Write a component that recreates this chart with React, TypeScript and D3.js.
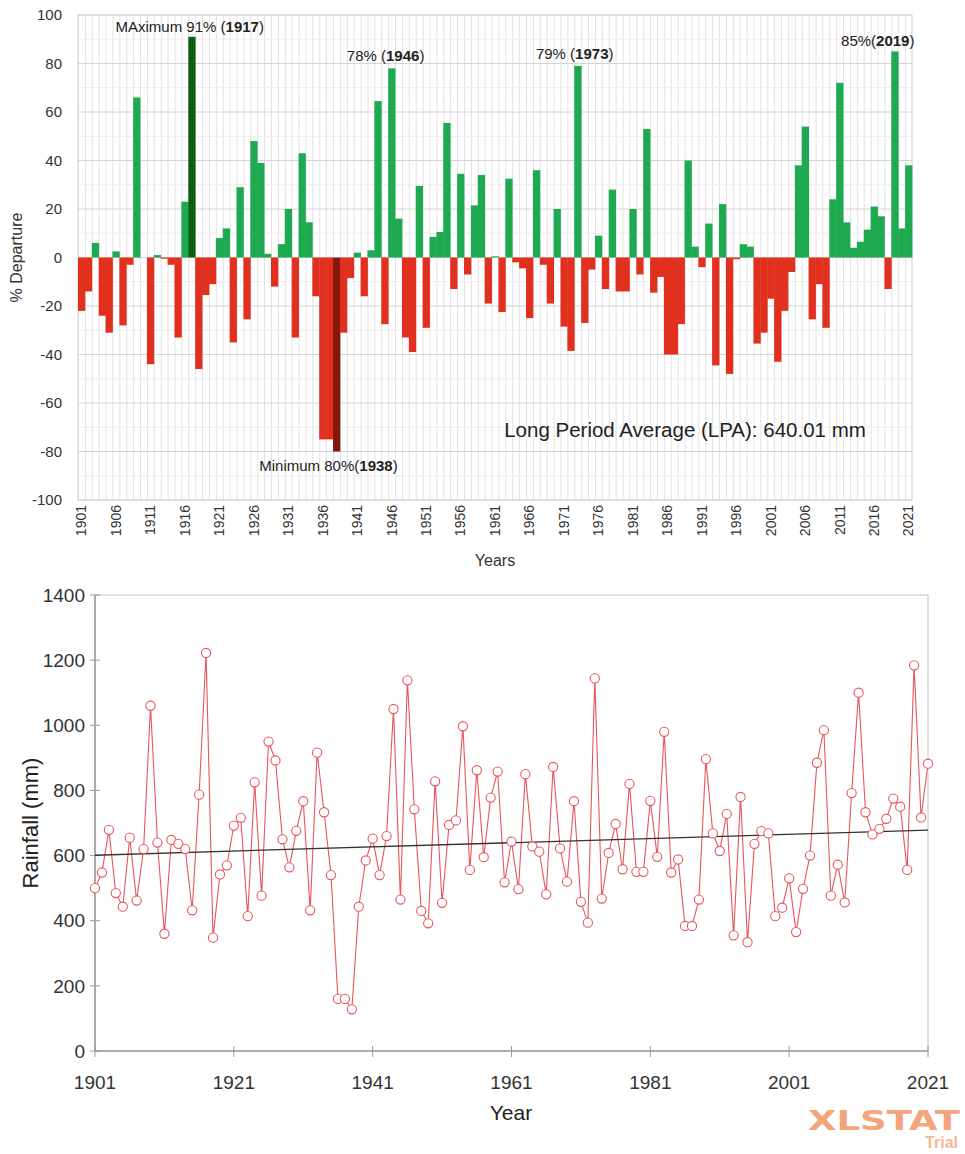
import React from 'react';
import * as d3 from 'd3';

// ---------------- DATA ----------------
const years: number[] = d3.range(1901, 2022);

// % departure from LPA (top panel)
const departure: number[] = [
  -22, -14, 6, -24, -31, 2.5, -28, -3, 66, 0,
  -44, 1, -0.5, -3, -33, 23, 91, -46, -15.5, -11,
  8, 12, -35, 29, -25.5, 48, 39, 1.5, -12, 5.5,
  20, -33, 43, 14.5, -16, -75, -75, -80, -31, -8.5,
  2, -16, 3, 64.5, -27.5, 78, 16, -33, -39, 29.5,
  -29, 8.5, 10.5, 55.5, -13, 34.5, -7, 21.5, 34, -19,
  0.5, -22.5, 32.5, -2, -4.5, -25, 36, -3, -19, 20,
  -28.5, -38.5, 79, -27, -5, 9, -13, 28, -14, -14,
  20, -7, 53, -14.5, -8, -40, -40, -27.5, 40, 4.5,
  -4, 14, -44.5, 22, -48, -0.7, 5.5, 4.5, -35.5, -31,
  -17, -43, -22, -6, 38, 54, -25.5, -11, -29, 24,
  72, 14.5, 4, 6.5, 11.5, 21, 17, -13, 85, 12,
  38,
];

// Annual rainfall in mm (bottom panel)
const rainfall: number[] = [
  500, 548, 679, 485, 443, 655, 462, 620, 1060, 640,
  360, 648, 636, 620, 432, 787, 1222, 348, 542, 570,
  692, 716, 414, 825, 477, 950, 892, 650, 564, 676,
  767, 432, 916, 733, 540, 160, 160, 128, 443, 585,
  652, 540, 660, 1050, 465, 1138, 742, 430, 392, 828,
  455, 694, 708, 997, 556, 862, 595, 778, 858, 518,
  643, 497, 850, 628, 612, 481, 872, 622, 520, 767,
  458, 394, 1144, 468, 608, 697, 558, 820, 550, 550,
  768, 596, 980, 548, 588, 384, 384, 465, 896, 668,
  614, 728, 355, 780, 334, 636, 675, 668, 414, 440,
  530, 365, 498, 600, 885, 985, 477, 572, 456, 792,
  1100, 733, 665, 682, 713, 775, 750, 556, 1184, 717,
  882,
];

const depTicks: number[] = [-100, -80, -60, -40, -20, 0, 20, 40, 60, 80, 100];
const depMinorTicks: number[] = [-90, -70, -50, -30, -10, 10, 30, 50, 70, 90];
const depYearLabels: number[] = [
  1901, 1906, 1911, 1916, 1921, 1926, 1931, 1936, 1941, 1946, 1951, 1956,
  1961, 1966, 1971, 1976, 1981, 1986, 1991, 1996, 2001, 2006, 2011, 2016, 2021,
];
const rainTicks: number[] = [0, 200, 400, 600, 800, 1000, 1200, 1400];
const rainYearTicks: number[] = [1901, 1921, 1941, 1961, 1981, 2001, 2021];
const trendYears: number[] = [1901, 2021];
const trendValues: number[] = [601, 678];

const maxYear = 1917;
const minYear = 1938;
const lpaText = 'Long Period Average (LPA): 640.01 mm';

const peakNotes = [
  { year: 1917, value: 91, pre: 'MAximum 91% (', bold: '1917', post: ')', dx: -2, dy: -5 },
  { year: 1946, value: 78, pre: '78% (', bold: '1946', post: ')', dx: -6, dy: -7 },
  { year: 1973, value: 79, pre: '79% (', bold: '1973', post: ')', dx: -3, dy: -7 },
  { year: 2019, value: 85, pre: '85%(', bold: '2019', post: ')', dx: -17, dy: -5 },
];
const minNote = { year: 1938, value: -80, pre: 'Minimum 80%(', bold: '1938', post: ')', dx: -8, dy: 19 };

// ---------------- STYLE ----------------
const FONT = '"Liberation Sans", Arial, Helvetica, sans-serif';
const GREEN = '#1faa52';
const DARK_GREEN = '#0b5e12';
const RED = '#e2301f';
const DARK_RED = '#84170c';
const LINE_RED = '#e8555a';

export default function App() {
  // Top panel scales
  const x = d3.scaleBand<number>().domain(years).range([78, 912]).padding(0);
  const y = d3.scaleLinear().domain([-100, 100]).range([500, 15]);
  const bw = x.bandwidth();
  const cx = (yr: number) => (x(yr) as number) + bw / 2;

  // Bottom panel scales
  const xs = d3.scaleLinear().domain([1901, 2021]).range([95, 928]);
  const ys = d3.scaleLinear().domain([0, 1400]).range([1051, 595]);

  const line = d3
    .line<number>()
    .x((_, i) => xs(years[i]))
    .y((d) => ys(d));

  const trendLine = d3
    .line<number>()
    .x((_, i) => xs(trendYears[i]))
    .y((d) => ys(d));

  const barColor = (yr: number, v: number) => {
    if (yr === maxYear) return DARK_GREEN;
    if (yr === minYear) return DARK_RED;
    return v >= 0 ? GREEN : RED;
  };

  return (
    <svg
      width={965}
      height={1154}
      style={{ position: 'absolute', left: 0, top: 0, background: '#fff' }}
      fontFamily={FONT}
    >
      <rect x={0} y={0} width={965} height={1154} fill="#fff" />

      {/* ---------- TOP PANEL ---------- */}
      <g>
        {years.map((yr) => (
          <line
            key={'vg' + yr}
            x1={(x(yr) as number) + 0.5}
            x2={(x(yr) as number) + 0.5}
            y1={y(100)}
            y2={y(-100)}
            stroke="#e2e2e2"
            strokeWidth={1}
          />
        ))}
        {depMinorTicks.map((t) => (
          <line key={'mh' + t} x1={78} x2={912} y1={y(t)} y2={y(t)} stroke="#ededed" strokeWidth={1} />
        ))}
        {depTicks.map((t) => (
          <line key={'hg' + t} x1={78} x2={912} y1={y(t)} y2={y(t)} stroke="#d4d4d4" strokeWidth={1} />
        ))}
        <rect x={78} y={y(100)} width={834} height={y(-100) - y(100)} fill="none" stroke="#cfcfcf" />

        {years.map((yr, i) => {
          const v = departure[i];
          const y0 = y(0);
          const yv = y(v);
          return (
            <rect
              key={'b' + yr}
              x={x(yr) as number}
              width={bw + 0.4}
              y={Math.min(y0, yv)}
              height={Math.abs(yv - y0)}
              fill={barColor(yr, v)}
            />
          );
        })}

        {depTicks.map((t) => (
          <text
            key={'yl' + t}
            x={62}
            y={y(t)}
            dy="0.35em"
            textAnchor="end"
            fontSize={15}
            fill="#333"
          >
            {t}
          </text>
        ))}
        <text
          transform={`translate(22,${y(0)}) rotate(-90)`}
          textAnchor="middle"
          fontSize={16}
          fill="#333"
        >
          % Departure
        </text>

        {depYearLabels.map((yr) => (
          <text
            key={'xl' + yr}
            transform={`translate(${cx(yr)},${505}) rotate(-90)`}
            textAnchor="end"
            dy="0.35em"
            fontSize={14}
            fill="#333"
          >
            {yr}
          </text>
        ))}
        <text x={495} y={566} textAnchor="middle" fontSize={16} fill="#333">
          Years
        </text>

        {peakNotes.map((n) => (
          <text
            key={'pn' + n.year}
            x={cx(n.year) + n.dx}
            y={y(n.value) + n.dy}
            textAnchor="middle"
            fontSize={15}
            fill="#222"
          >
            {n.pre}
            <tspan fontWeight="bold">{n.bold}</tspan>
            {n.post}
          </text>
        ))}
        <text
          x={cx(minNote.year) + minNote.dx}
          y={y(minNote.value) + minNote.dy}
          textAnchor="middle"
          fontSize={15}
          fill="#222"
        >
          {minNote.pre}
          <tspan fontWeight="bold">{minNote.bold}</tspan>
          {minNote.post}
        </text>
        <text x={685} y={437} textAnchor="middle" fontSize={20.5} fill="#222">
          {lpaText}
        </text>
      </g>

      {/* ---------- BOTTOM PANEL ---------- */}
      <g>
        <rect x={95} y={595} width={833} height={456} fill="none" stroke="#cdcdcd" strokeWidth={1.2} />
        <line x1={95} x2={95} y1={595} y2={1051} stroke="#9a9a9a" strokeWidth={1.5} />
        <line x1={95} x2={928} y1={1051} y2={1051} stroke="#9a9a9a" strokeWidth={1.5} />

        {rainTicks.map((t) => (
          <g key={'rt' + t}>
            <line x1={90} x2={100} y1={ys(t)} y2={ys(t)} stroke="#9a9a9a" strokeWidth={1} />
            <text x={85} y={ys(t)} dy="0.35em" textAnchor="end" fontSize={19} fill="#333">
              {t}
            </text>
          </g>
        ))}
        {rainYearTicks.map((yr) => (
          <g key={'ry' + yr}>
            <line x1={xs(yr)} x2={xs(yr)} y1={1046} y2={1057} stroke="#9a9a9a" strokeWidth={1} />
            <text x={xs(yr)} y={1089} textAnchor="middle" fontSize={19} fill="#333">
              {yr}
            </text>
          </g>
        ))}
        <text
          transform={`translate(38,${ys(700)}) rotate(-90)`}
          textAnchor="middle"
          fontSize={22}
          fill="#222"
        >
          Rainfall (mm)
        </text>
        <text x={511} y={1120} textAnchor="middle" fontSize={21} fill="#222">
          Year
        </text>

        <path d={line(rainfall) || ''} fill="none" stroke={LINE_RED} strokeWidth={1.1} />
        <path d={trendLine(trendValues) || ''} fill="none" stroke="#333" strokeWidth={1.3} />
        {rainfall.map((v, i) => (
          <circle
            key={'pt' + i}
            cx={xs(years[i])}
            cy={ys(v)}
            r={4.6}
            fill="#fff"
            stroke={LINE_RED}
            strokeWidth={1.1}
          />
        ))}
      </g>

      {/* watermark */}
      <text
        x={808}
        y={1130}
        fontSize={27}
        fontWeight="bold"
        fontFamily='"DejaVu Sans", sans-serif'
        fill="#f3a57c"
        textLength={152}
        lengthAdjust="spacingAndGlyphs"
      >
        XLSTAT
      </text>
      <text
        x={958}
        y={1148}
        fontSize={16}
        fontWeight="bold"
        textAnchor="end"
        fill="#f5b896"
      >
        Trial
      </text>
    </svg>
  );
}
